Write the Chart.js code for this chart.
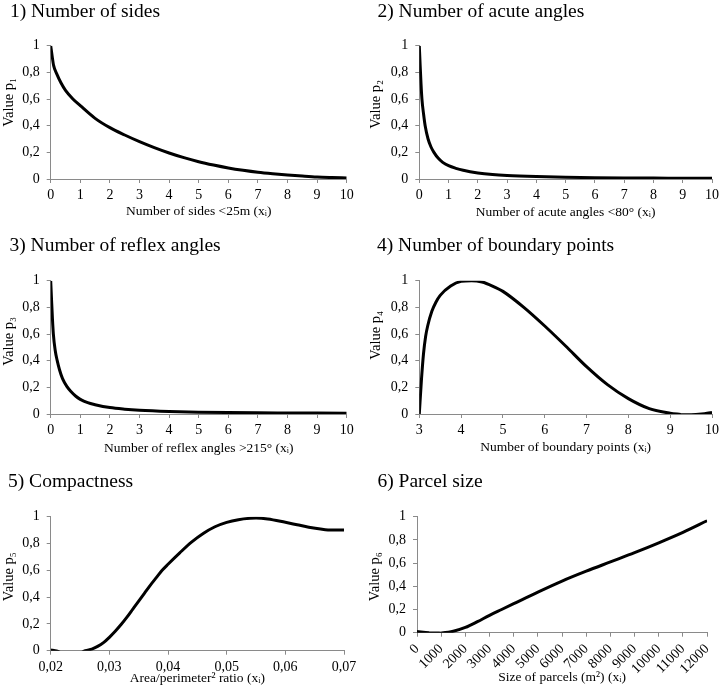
<!DOCTYPE html>
<html><head><meta charset="utf-8">
<script src="https://cdn.jsdelivr.net/npm/chart.js@4.4.0/dist/chart.umd.min.js"></script>
<style>
html,body{margin:0;padding:0;background:#fff;}
#wrap{position:relative;width:723px;height:694px;overflow:hidden;background:#fff;}
canvas{position:absolute;}
.t{position:absolute;font-family:'Liberation Serif','Times New Roman',serif;font-size:19.5px;line-height:20px;color:#000;white-space:nowrap;}
</style></head><body>
<div id="wrap">
<canvas id="c1" width="362" height="230" style="left:0;top:0"></canvas>
<canvas id="c2" width="361" height="230" style="left:362px;top:0"></canvas>
<canvas id="c3" width="362" height="230" style="left:0;top:230px"></canvas>
<canvas id="c4" width="361" height="230" style="left:362px;top:230px"></canvas>
<canvas id="c5" width="362" height="234" style="left:0;top:460px"></canvas>
<canvas id="c6" width="361" height="234" style="left:362px;top:460px"></canvas>
<div class="t" style="left:10px;top:1px">1) Number of sides</div>
<div class="t" style="left:377.5px;top:1px">2) Number of acute angles</div>
<div class="t" style="left:9.5px;top:235px">3) Number of reflex angles</div>
<div class="t" style="left:377px;top:235px">4) Number of boundary points</div>
<div class="t" style="left:8px;top:471px">5) Compactness</div>
<div class="t" style="left:377.5px;top:471px">6) Parcel size</div>
</div>
<script>
// ---- data ----
const yTicks = [0, 0.2, 0.4, 0.6, 0.8, 1];
const yTickLabels = ['0', '0,2', '0,4', '0,6', '0,8', '1'];

const x1 = [0, 0.05, 0.1, 0.2, 0.35, 0.5, 0.75, 1, 1.5, 2, 2.5, 3, 3.5, 4, 4.5, 5, 5.5, 6, 6.5, 7, 7.5, 8, 8.5, 9, 9.5, 10];
const p1 = [1, 0.92, 0.85, 0.79, 0.72, 0.665, 0.6, 0.55, 0.455, 0.385, 0.33, 0.28, 0.235, 0.195, 0.16, 0.13, 0.105, 0.083, 0.065, 0.05, 0.039, 0.03, 0.022, 0.015, 0.011, 0.008];
const x1Ticks = [0, 1, 2, 3, 4, 5, 6, 7, 8, 9, 10];
const x1Labels = ['0', '1', '2', '3', '4', '5', '6', '7', '8', '9', '10'];

const x2 = [0, 0.03, 0.06, 0.09, 0.15, 0.2, 0.3, 0.4, 0.5, 0.65, 0.8, 1, 1.25, 1.5, 2, 2.5, 3, 4, 5, 6, 7, 8, 9, 10];
const p2 = [1, 0.85, 0.71, 0.6, 0.48, 0.4, 0.3, 0.24, 0.2, 0.155, 0.125, 0.1, 0.08, 0.065, 0.045, 0.033, 0.026, 0.018, 0.013, 0.01, 0.008, 0.007, 0.006, 0.005];
const x2Ticks = [0, 1, 2, 3, 4, 5, 6, 7, 8, 9, 10];
const x2Labels = ['0', '1', '2', '3', '4', '5', '6', '7', '8', '9', '10'];

const x3 = [0, 0.03, 0.06, 0.09, 0.15, 0.22, 0.3, 0.4, 0.55, 0.7, 0.85, 1, 1.25, 1.5, 2, 2.5, 3, 4, 5, 6, 7, 8, 9, 10];
const p3 = [1, 0.85, 0.71, 0.6, 0.48, 0.4, 0.33, 0.265, 0.205, 0.165, 0.133, 0.11, 0.085, 0.07, 0.048, 0.036, 0.028, 0.019, 0.014, 0.011, 0.009, 0.008, 0.007, 0.006];
const x3Ticks = [0, 1, 2, 3, 4, 5, 6, 7, 8, 9, 10];
const x3Labels = ['0', '1', '2', '3', '4', '5', '6', '7', '8', '9', '10'];

const x4 = [3, 3.05, 3.1, 3.15, 3.2, 3.3, 3.4, 3.5, 3.75, 4, 4.25, 4.5, 4.75, 5, 5.5, 6, 6.5, 7, 7.5, 8, 8.5, 9, 9.25, 9.5, 9.75, 10];
const p4 = [0, 0.25, 0.45, 0.58, 0.66, 0.77, 0.84, 0.89, 0.96, 0.995, 1.0, 0.99, 0.96, 0.92, 0.8, 0.66, 0.51, 0.355, 0.22, 0.115, 0.04, 0.006, -0.003, -0.005, 0.0, 0.012];
const x4Ticks = [3, 4, 5, 6, 7, 8, 9, 10];
const x4Labels = ['3', '4', '5', '6', '7', '8', '9', '10'];

const x5 = [0.02, 0.021, 0.0225, 0.024, 0.025, 0.0259, 0.027, 0.028, 0.029, 0.03, 0.031, 0.032, 0.033, 0.034, 0.035, 0.036, 0.037, 0.038, 0.039, 0.04, 0.042, 0.044, 0.046, 0.048, 0.05, 0.052, 0.054, 0.055, 0.057, 0.06, 0.062, 0.064, 0.066, 0.068, 0.07];
const p5 = [0.006, -0.002, -0.03, -0.035, -0.02, 0, 0.012, 0.032, 0.06, 0.1, 0.145, 0.195, 0.25, 0.31, 0.37, 0.43, 0.49, 0.545, 0.6, 0.645, 0.73, 0.81, 0.875, 0.925, 0.958, 0.978, 0.988, 0.99, 0.983, 0.958, 0.94, 0.922, 0.908, 0.9, 0.9];
const x5Ticks = [0.02, 0.03, 0.04, 0.05, 0.06, 0.07];
const x5Labels = ['0,02', '0,03', '0,04', '0,05', '0,06', '0,07'];

const x6 = [0, 500, 1000, 1500, 2000, 2500, 3000, 3500, 4000, 5000, 6000, 7000, 8000, 9000, 10000, 11000, 12000];
const p6 = [0.01, 0.0, -0.004, 0.012, 0.045, 0.095, 0.15, 0.2, 0.25, 0.35, 0.445, 0.53, 0.61, 0.69, 0.775, 0.865, 0.965];
const x6Ticks = [0, 1000, 2000, 3000, 4000, 5000, 6000, 7000, 8000, 9000, 10000, 11000, 12000];
const x6Labels = ['0', '1000', '2000', '3000', '4000', '5000', '6000', '7000', '8000', '9000', '10000', '11000', '12000'];

// ---- charts ----
Chart.defaults.font.family = "'Liberation Serif', 'DejaVu Serif', 'Times New Roman', serif";
Chart.defaults.font.size = 13;
Chart.defaults.color = '#000';
const AXIS = '#8a8a8a';

function makeChart(id, o) {
  const canvas = document.getElementById(id);
  const W = canvas.width, H = canvas.height;
  new Chart(canvas, {
    type: 'line',
    data: { datasets: [{
      data: o.xs.map((x, i) => ({ x: x, y: o.ys[i] })),
      borderColor: '#000', borderWidth: 3, pointRadius: 0,
      cubicInterpolationMode: 'monotone', fill: false
    }]},
    options: {
      responsive: false, animation: false, devicePixelRatio: 1,
      layout: { padding: { left: 0, top: o.area.top, right: W - o.area.right, bottom: 0 } },
      plugins: { legend: { display: false }, tooltip: { enabled: false }, title: { display: false } },
      scales: {
        x: {
          type: 'linear', min: o.xTicks[0], max: o.xTicks[o.xTicks.length - 1],
          afterBuildTicks: s => { s.ticks = o.xTicks.map(v => ({ value: v })); },
          afterFit: s => { s.height = H - o.area.bottom; },
          ticks: { autoSkip: false, maxRotation: o.rot, minRotation: o.rot, padding: 4, color: '#000',
                   font: { size: 14 }, callback: (v, i) => o.xLabels[i] },
          grid: { drawOnChartArea: false, drawTicks: true, tickLength: 4, color: AXIS },
          border: { color: AXIS },
          title: { display: true, text: o.xTitle, color: '#000', font: { size: 13.5 }, padding: { top: 0, bottom: o.xtp } }
        },
        y: {
          type: 'linear', min: 0, max: 1,
          afterBuildTicks: s => { s.ticks = yTicks.map(v => ({ value: v })); },
          afterFit: s => {
            s.width = o.area.left;
            if (!s._shiftPatched) {
              const orig = s.drawTitle;
              s.drawTitle = function () {
                this.ctx.save(); this.ctx.translate(0, o.yShift); orig.call(this); this.ctx.restore();
              };
              s._shiftPatched = true;
            }
          },
          ticks: { autoSkip: false, padding: 7, color: '#000', font: { size: 14 }, callback: (v, i) => yTickLabels[i] },
          grid: { drawOnChartArea: false, drawTicks: true, tickLength: 4, color: AXIS },
          border: { color: AXIS },
          title: { display: true, text: o.yTitle, color: '#000', font: { size: 14.5 }, padding: { top: o.ytp, bottom: 0 } }
        }
      }
    }
  });
}

makeChart('c1', { xs: x1, ys: p1, xTicks: x1Ticks, xLabels: x1Labels, rot: 0,
  xTitle: 'Number of sides <25m (xᵢ)', yTitle: 'Value p₁',
  area: { left: 50.7, right: 346.7, top: 45.7, bottom: 179 }, xtp: 10, ytp: 0, yShift: -10 });
makeChart('c2', { xs: x2, ys: p2, xTicks: x2Ticks, xLabels: x2Labels, rot: 0,
  xTitle: 'Number of acute angles <80° (xᵢ)', yTitle: 'Value p₂',
  area: { left: 57.3, right: 351.7, top: 45.7, bottom: 179 }, xtp: 9.5, ytp: 5, yShift: -8 });
makeChart('c3', { xs: x3, ys: p3, xTicks: x3Ticks, xLabels: x3Labels, rot: 0,
  xTitle: 'Number of reflex angles >215° (xᵢ)', yTitle: 'Value p₃',
  area: { left: 50.7, right: 346.7, top: 50.7, bottom: 184 }, xtp: 3, ytp: 0, yShift: -6 });
makeChart('c4', { xs: x4, ys: p4, xTicks: x4Ticks, xLabels: x4Labels, rot: 0,
  xTitle: 'Number of boundary points (xᵢ)', yTitle: 'Value p₄',
  area: { left: 57.3, right: 351.7, top: 50.7, bottom: 184 }, xtp: 4.5, ytp: 5, yShift: -12 });
makeChart('c5', { xs: x5, ys: p5, xTicks: x5Ticks, xLabels: x5Labels, rot: 0,
  xTitle: 'Area/perimeter² ratio (xᵢ)', yTitle: 'Value p₅',
  area: { left: 50.7, right: 344, top: 56.7, bottom: 190.7 }, xtp: 7.5, ytp: 0, yShift: -7 });
makeChart('c6', { xs: x6, ys: p6, xTicks: x6Ticks, xLabels: x6Labels, rot: 45,
  xTitle: 'Size of parcels (m²) (xᵢ)', yTitle: 'Value p₆',
  area: { left: 55, right: 348.3, top: 56.7, bottom: 172.7 }, xtp: 8, ytp: 4.5, yShift: 2 });
</script>
</body></html>
